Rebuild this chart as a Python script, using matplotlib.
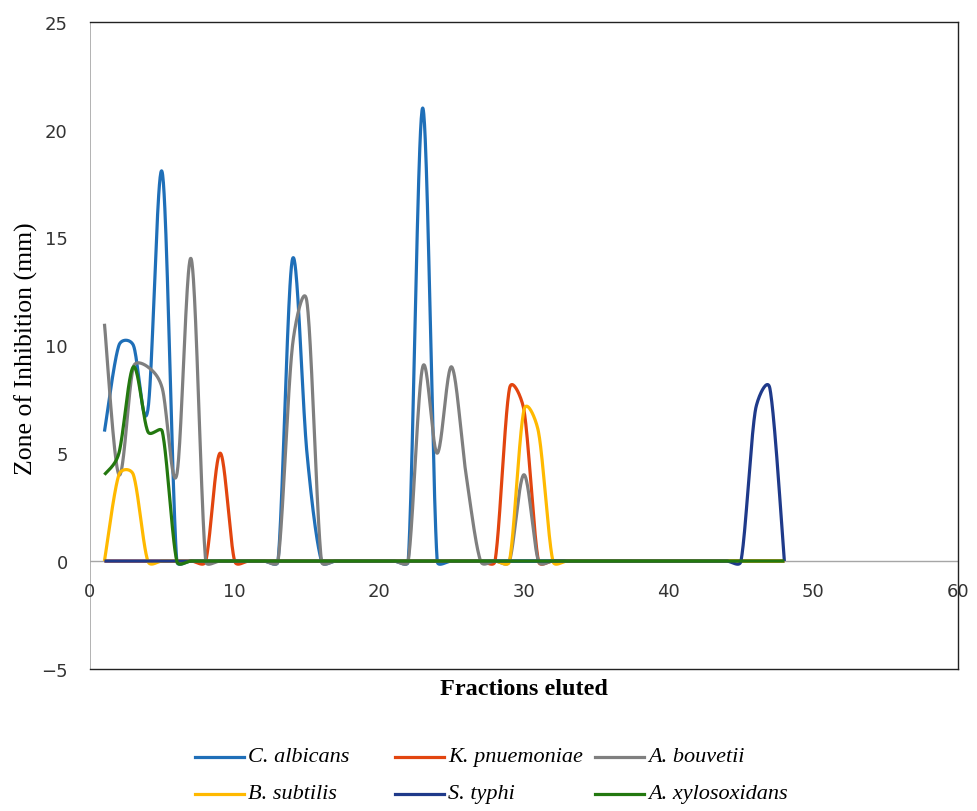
"""Zone of inhibition per eluted fraction, redrawn with Excel-style smoothed lines."""

import matplotlib
matplotlib.use("Agg")
import matplotlib.pyplot as plt
from matplotlib.lines import Line2D
import numpy as np


fractions = list(range(1, 49))

c_albicans = [6, 10, 10, 7, 18, 0, 0, 0, 0, 0, 0, 0, 0, 14, 5, 0,
              0, 0, 0, 0, 0, 0, 21, 0, 0, 0, 0, 0, 0, 0, 0, 0,
              0, 0, 0, 0, 0, 0, 0, 0, 0, 0, 0, 0, 0, 0, 0, 0]
k_pnuemoniae = [0, 0, 0, 0, 0, 0, 0, 0, 5, 0, 0, 0, 0, 0, 0, 0,
                0, 0, 0, 0, 0, 0, 0, 0, 0, 0, 0, 0, 8, 7, 0, 0,
                0, 0, 0, 0, 0, 0, 0, 0, 0, 0, 0, 0, 0, 0, 0, 0]
a_bouvetii = [11, 4, 9, 9, 8, 4, 14, 0, 0, 0, 0, 0, 0, 10, 12, 0,
              0, 0, 0, 0, 0, 0, 9, 5, 9, 4, 0, 0, 0, 4, 0, 0,
              0, 0, 0, 0, 0, 0, 0, 0, 0, 0, 0, 0, 0, 0, 0, 0]
b_subtilis = [0, 4, 4, 0, 0, 0, 0, 0, 0, 0, 0, 0, 0, 0, 0, 0,
              0, 0, 0, 0, 0, 0, 0, 0, 0, 0, 0, 0, 0, 7, 6, 0,
              0, 0, 0, 0, 0, 0, 0, 0, 0, 0, 0, 0, 0, 0, 0, 0]
s_typhi = [0, 0, 0, 0, 0, 0, 0, 0, 0, 0, 0, 0, 0, 0, 0, 0,
           0, 0, 0, 0, 0, 0, 0, 0, 0, 0, 0, 0, 0, 0, 0, 0,
           0, 0, 0, 0, 0, 0, 0, 0, 0, 0, 0, 0, 0, 7, 8, 0]
a_xylosoxidans = [4, 5, 9, 6, 6, 0, 0, 0, 0, 0, 0, 0, 0, 0, 0, 0,
                  0, 0, 0, 0, 0, 0, 0, 0, 0, 0, 0, 0, 0, 0, 0, 0,
                  0, 0, 0, 0, 0, 0, 0, 0, 0, 0, 0, 0, 0, 0, 0, 0]

series_names = ["C. albicans", "K. pnuemoniae", "A. bouvetii",
                "B. subtilis", "S. typhi", "A. xylosoxidans"]
series_values = [c_albicans, k_pnuemoniae, a_bouvetii,
                 b_subtilis, s_typhi, a_xylosoxidans]
series_colors = ["#1f6fb8", "#e2450f", "#7f7f7f", "#ffb900", "#1f3a8a", "#23780f"]

# rough pixel size of one data unit, so the smoothing works in screen space
PX_X = 14.47
PX_Y = 21.5


def smooth(x, y, steps=40):
    """Catmull-Rom Bezier, each handle capped at half its segment (Excel-like)."""
    pts = np.column_stack([np.asarray(x, float) * PX_X, np.asarray(y, float) * PX_Y])
    n = len(pts)
    seg = np.hypot(*np.diff(pts, axis=0).T)
    tang = np.array([pts[min(i + 1, n - 1)] - pts[max(i - 1, 0)] for i in range(n)]) / 6

    def capped(v, limit):
        length = np.hypot(*v)
        return v * (limit / length) if length > limit else v

    t = np.linspace(0, 1, steps, endpoint=False)[:, None]
    parts = []
    for i in range(n - 1):
        p0, p3 = pts[i], pts[i + 1]
        c1 = p0 + capped(tang[i], seg[i] / 2)
        c2 = p3 - capped(tang[i + 1], seg[i] / 2)
        b = (1 - t) ** 3 * p0 + 3 * (1 - t) ** 2 * t * c1 + 3 * (1 - t) * t ** 2 * c2 + t ** 3 * p3
        parts.append(b)
    parts.append(pts[-1:])
    curve = np.vstack(parts)
    return curve[:, 0] / PX_X, curve[:, 1] / PX_Y


fig = plt.figure(figsize=(9.78, 8.12), dpi=100)
ax = fig.add_axes([0.092, 0.175, 0.8875, 0.797])

for name, values, color in zip(series_names, series_values, series_colors):
    sx, sy = smooth(fractions, values)
    ax.plot(sx, sy, color=color, lw=2.3, label=name, solid_capstyle="butt")

ax.set_xlim(0, 60)
ax.set_ylim(-5, 25)
ax.set_xticks(range(0, 61, 10))
ax.set_yticks(range(-5, 26, 5))
ax.set_yticklabels(["\u22125", "0", "5", "10", "15", "20", "25"])

# axes cross at zero, like the Excel default
ax.axhline(0, color="#a6a6a6", lw=1, zorder=0)
ax.axvline(0, color="#a6a6a6", lw=1.2, zorder=0)
for side in ["top", "right", "bottom"]:
    ax.spines[side].set_color("#222222")
    ax.spines[side].set_linewidth(1)
ax.spines["left"].set_visible(False)
ax.tick_params(length=0, labelsize=13, colors="#333333")
ax.tick_params(axis="y", pad=16)
shift = matplotlib.transforms.ScaledTranslation(0, 0.92, fig.dpi_scale_trans)
for lbl in ax.get_xticklabels():
    lbl.set_transform(lbl.get_transform() + shift)

fig.text(0.5358, 1 - 690 / 812, "Fractions eluted", family="Liberation Serif",
         fontweight="bold", fontsize=17.5, ha="center", va="center")
fig.text(26 / 978, 1 - 349 / 812, "Zone of Inhibition (mm)", family="Liberation Serif",
         fontsize=18.5, rotation=90, ha="center", va="center")

# Excel-style legend: equal-width columns, filled row by row
col_left = [195, 395, 595]
row_y = [758, 795]
for k, (name, color) in enumerate(zip(series_names, series_colors)):
    x0 = col_left[k % 3] / 978
    y0 = 1 - row_y[k // 3] / 812
    fig.add_artist(Line2D([x0, x0 + 49 / 978], [y0, y0], color=color, lw=2.3,
                          transform=fig.transFigure))
    fig.text(x0 + 53 / 978, y0, name, family="Liberation Serif", style="italic",
             fontsize=16, ha="left", va="center")

fig.savefig("out.png", dpi=100)
